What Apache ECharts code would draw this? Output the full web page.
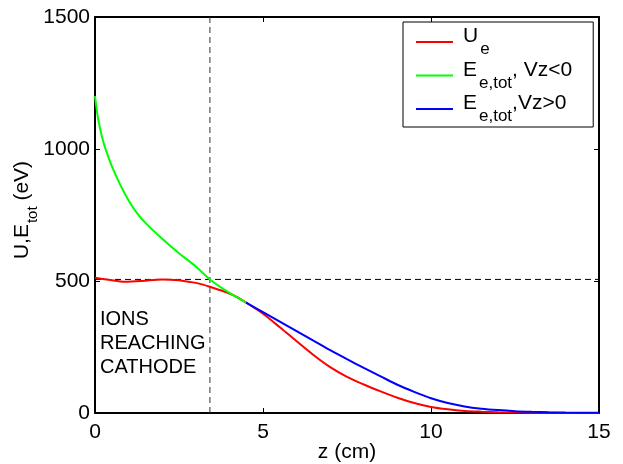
<!DOCTYPE html>
<html>
<head>
<meta charset="utf-8">
<script src="https://cdn.jsdelivr.net/npm/echarts@6/dist/echarts.min.js"></script>
<style>
html,body{margin:0;padding:0;background:#fff;}
#chart{width:623px;height:464px;}
</style>
</head>
<body>
<div id="chart"></div>
<script>
// ---- data ----
const zRed   = [0, 0.4, 0.9, 1.4, 2.0, 2.5, 2.8, 3.1, 3.42, 3.8, 4.2, 4.5, 5.0, 5.5, 6.0, 6.5, 7.0, 7.5, 8.0, 8.5, 9.0, 9.5, 10.0, 10.5, 11.0, 11.5, 12.0, 13.0, 14.0, 15.0];
const uRed   = [512, 505, 497, 500, 506, 503, 497, 490, 478, 462, 441, 418, 376, 325, 272, 220, 174, 137, 108, 82, 58, 38, 23, 14, 8, 5, 3, 1, 0.3, 0];
const zGreen = [0, 0.05, 0.1, 0.2, 0.3, 0.5, 0.75, 1.0, 1.25, 1.5, 2.0, 2.5, 3.0, 3.42, 4.0, 4.5];
const eGreen = [1200, 1150, 1110, 1050, 1005, 935, 865, 805, 757, 720, 660, 605, 555, 506, 455, 418];
const zBlue  = [4.5, 5.0, 5.5, 6.0, 6.5, 7.0, 7.5, 8.0, 8.5, 9.0, 9.5, 10.0, 10.5, 11.0, 11.5, 12.0, 12.5, 13.0, 13.5, 14.0, 15.0];
const eBlue  = [418, 382, 346, 310, 274, 238, 204, 171, 139, 107, 80, 56, 38, 25, 16.5, 11, 7, 4.5, 2.8, 1.7, 0.5];
const xTicks = [0, 5, 10, 15];
const yTicks = [0, 500, 1000, 1500];
const cathodeZ = 3.42;   // vertical dashed line position (cm)
const cathodeU = 506;    // horizontal dashed line level (eV)
const seriesNames = ['Ue', 'EVzneg', 'EVzpos'];
const annotationLines = ['IONS', 'REACHING', 'CATHODE'];

const FONT = 'Liberation Sans, Arial, sans-serif';
const zip = (a, b) => a.map((v, i) => [v, b[i]]);

const chart = echarts.init(document.getElementById('chart'), null, {renderer: 'canvas'});

const legendText = {
  Ue: '{f|U}{s|e}',
  EVzneg: '{f|E}{s|e,tot}{m|, Vz<0}',
  EVzpos: '{f|E}{s|e,tot}{m|,Vz>0}'
};
const legendRich = {
  m: {fontSize: 21, fontFamily: FONT, color: '#000', lineHeight: 21, verticalAlign: 'top'},
  f: {fontSize: 21, fontFamily: FONT, color: '#000', lineHeight: 21, verticalAlign: 'top', padding: [0, 0, 0, 5]},
  s: {fontSize: 17, fontFamily: FONT, color: '#000', lineHeight: 32, verticalAlign: 'bottom', padding: [0, 0, 0, 2]}
};

const option = {
  backgroundColor: '#fff',
  animation: false,
  grid: {left: 95, right: 24, top: 17, bottom: 51, containLabel: false, outerBoundsMode: 'none'},
  xAxis: [{
    type: 'value', min: xTicks[0], max: xTicks[xTicks.length - 1], interval: 5,
    name: 'z (cm)', nameLocation: 'middle', nameGap: 29, nameMoveOverlap: false,
    nameTextStyle: {color: '#000', fontSize: 21, fontFamily: FONT},
    axisLine: {show: true, onZero: false, lineStyle: {color: '#000', width: 2}},
    axisTick: {show: true, inside: true, length: 5, lineStyle: {color: '#000', width: 1}},
    axisLabel: {color: '#000', fontSize: 21, fontFamily: FONT, margin: 9, formatter: v => String(v)},
    splitLine: {show: false}
  }, {
    type: 'value', position: 'top', min: xTicks[0], max: xTicks[xTicks.length - 1], interval: 5,
    axisLine: {show: true, onZero: false, lineStyle: {color: '#000', width: 2}},
    axisTick: {show: true, inside: true, length: 5, lineStyle: {color: '#000', width: 1}},
    axisLabel: {show: false}, splitLine: {show: false}
  }],
  yAxis: [{
    type: 'value', min: yTicks[0], max: yTicks[yTicks.length - 1], interval: 500,
    name: '{f|U,E}{s|tot}{m| (eV)}', nameLocation: 'middle', nameGap: 55, nameRotate: 90, nameMoveOverlap: false,
    nameTextStyle: {
      color: '#000', fontFamily: FONT,
      rich: {
        f: {fontSize: 21, fontFamily: FONT, color: '#000', lineHeight: 21, verticalAlign: 'top', padding: [0, 0, 0, 10]},
        m: {fontSize: 21, fontFamily: FONT, color: '#000', lineHeight: 21, verticalAlign: 'top'},
        s: {fontSize: 15, fontFamily: FONT, color: '#000', lineHeight: 28, verticalAlign: 'bottom', padding: [0, 0, 0, 1]}
      }
    },
    axisLine: {show: true, onZero: false, lineStyle: {color: '#000', width: 2}},
    axisTick: {show: true, inside: true, length: 5, lineStyle: {color: '#000', width: 1}},
    axisLabel: {color: '#000', fontSize: 21, fontFamily: FONT, margin: 5, formatter: v => String(v)},
    splitLine: {show: false}
  }, {
    type: 'value', position: 'right', min: yTicks[0], max: yTicks[yTicks.length - 1], interval: 500,
    axisLine: {show: true, onZero: false, lineStyle: {color: '#000', width: 2}},
    axisTick: {show: true, inside: true, length: 5, lineStyle: {color: '#000', width: 1}},
    axisLabel: {show: false}, splitLine: {show: false}
  }],
  legend: {
    orient: 'vertical', left: 403, top: 22,
    backgroundColor: '#fff', borderColor: '#000', borderWidth: 1,
    padding: [4, 21, 2, 13], itemGap: 1.5, itemWidth: 37, itemHeight: 2, icon: 'rect',
    data: seriesNames,
    formatter: name => legendText[name],
    textStyle: {fontFamily: FONT, color: '#000', rich: legendRich}
  },
  graphic: [{
    type: 'text', left: 100, top: 307, z: 10,
    style: {text: annotationLines.join('\n'), font: '20px ' + FONT, lineHeight: 24, fill: '#000'}
  }],
  series: [
    {
      name: 'cathodeV', type: 'line', xAxisIndex: 0, yAxisIndex: 0, symbol: 'none', silent: true,
      data: [[cathodeZ, yTicks[0]], [cathodeZ, yTicks[yTicks.length - 1]]],
      lineStyle: {color: '#333', width: 1, type: [6, 4]}, z: 1
    },
    {
      name: 'cathodeH', type: 'line', xAxisIndex: 0, yAxisIndex: 0, symbol: 'none', silent: true,
      data: [[xTicks[0], cathodeU], [xTicks[xTicks.length - 1], cathodeU]],
      lineStyle: {color: '#000', width: 1, type: [6, 4]}, z: 1
    },
    {
      name: 'Ue', type: 'line', symbol: 'none', smooth: 0.3,
      data: zip(zRed, uRed), itemStyle: {color: '#ff0000'},
      lineStyle: {color: '#ff0000', width: 2}, z: 2
    },
    {
      name: 'EVzneg', type: 'line', symbol: 'none', smooth: 0.3,
      data: zip(zGreen, eGreen), itemStyle: {color: '#00ff00'},
      lineStyle: {color: '#00ff00', width: 2}, z: 3
    },
    {
      name: 'EVzpos', type: 'line', symbol: 'none', smooth: 0.3,
      data: zip(zBlue, eBlue), itemStyle: {color: '#0000ff'},
      lineStyle: {color: '#0000ff', width: 2}, z: 4
    }
  ]
};
chart.setOption(option);
</script>
</body>
</html>
